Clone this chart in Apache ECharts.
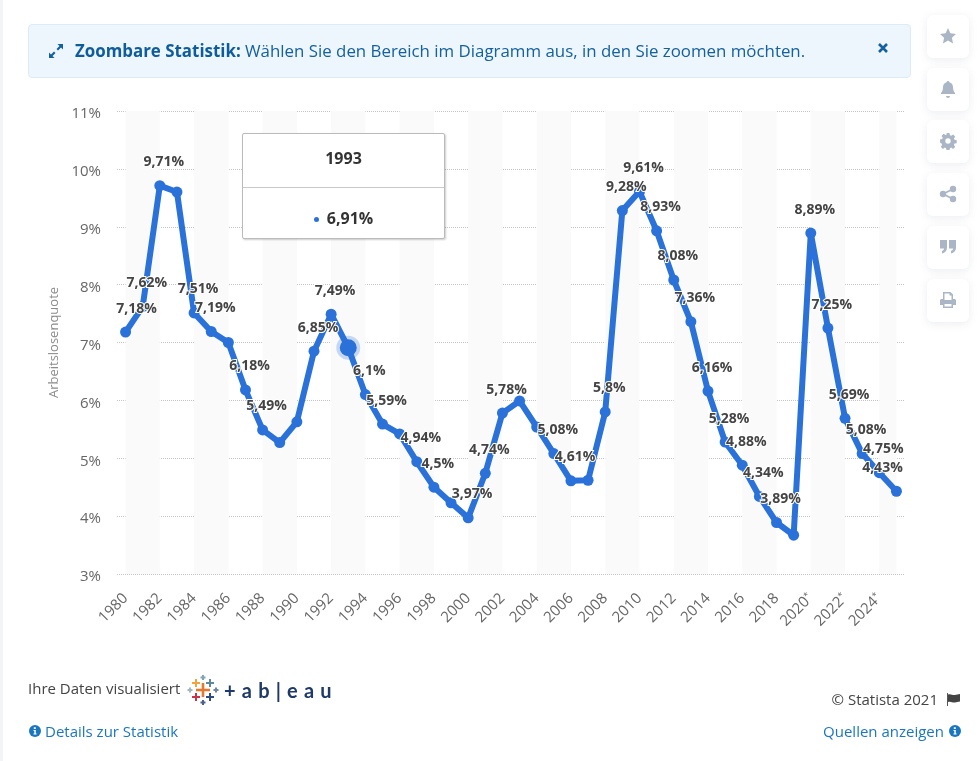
<!DOCTYPE html>
<html lang="de">
<head>
<meta charset="utf-8">
<title>Arbeitslosenquote</title>
<script src="https://cdn.jsdelivr.net/npm/echarts@6/dist/echarts.min.js"></script>
<style>
html,body{margin:0;padding:0;background:#fff;overflow:hidden;}
body{width:978px;height:761px;position:relative;font-family:"Open Sans",sans-serif;}
#chart{position:absolute;left:0;top:0;width:978px;height:761px;}
.strip{position:absolute;left:0;top:0;width:3px;height:761px;background:#f3f4f6;}
.banner{position:absolute;left:28px;top:24px;width:881px;height:52px;background:#edf6fd;border:1px solid #dcebf7;border-radius:4px;color:#15609f;font-size:17px;line-height:52px;}
.banner b{position:absolute;left:46px;top:0;color:#0f5c9c;white-space:nowrap;font-size:16.900px;}
.banner span{position:absolute;left:216px;top:0;white-space:nowrap;font-size:16.880px;}
.banner svg{position:absolute;}
.side{position:absolute;left:927px;width:42px;height:43px;background:#fff;border-radius:6px;box-shadow:0 2px 8px rgba(90,110,140,.12);}
.side svg{position:absolute;left:12px;top:12px;width:18px;height:18px;fill:#aab6c6;}
.foot{position:absolute;font-size:15px;white-space:nowrap;line-height:20px;}
.grey{color:#444;}
.link{color:#1a77bf;}
.info{position:absolute;width:12px;height:12px;}
.logo-text{position:absolute;left:224px;top:680px;font-family:"Lato",sans-serif;font-size:20px;font-weight:700;color:#1f3a68;letter-spacing:6.200px;white-space:nowrap;line-height:20px;}
.tip{width:201px;height:104px;text-align:center;font-family:"Open Sans",sans-serif;color:#333;}
.tip .yr{height:53px;line-height:49px;font-size:16px;font-weight:700;border-bottom:1px solid #c9c9c9;}
.tip .val{line-height:61px;font-size:16px;font-weight:700;}
.tip .val i{display:inline-block;width:5px;height:5px;border-radius:50%;background:#2a72d9;margin-right:8px;vertical-align:2px;}
</style>
</head>
<body>
<div id="chart"></div>
<div class="strip"></div>

<div class="banner">
  <svg style="left:19px;top:18px" width="16" height="16" viewBox="0 0 16 16" fill="#15609f"><path d="M9.5 1H15v5.5l-2-2-3 3L8.500 6l3-3zM6.500 15H1V9.500l2 2 3-3L7.500 10l-3 3z"/></svg>
  <b>Zoombare Statistik:</b>
  <span>Wählen Sie den Bereich im Diagramm aus, in den Sie zoomen möchten.</span>
  <svg style="left:848px;top:17px" width="12" height="12" viewBox="0 0 12 12" stroke="#15609f" stroke-width="2.600"><path d="M2 2l8 8M10 2l-8 8"/></svg>
</div>

<div class="side" style="top:15px"><svg viewBox="0 0 18 18"><path d="M9 1l2.400 5.200 5.600.7-4.100 3.900 1.100 5.600L9 13.600l-5 2.800 1.100-5.600L1 6.900l5.600-.7z"/></svg></div>
<div class="side" style="top:68px"><svg viewBox="0 0 18 18"><path d="M9 1c.8 0 1.400.6 1.400 1.300 2.300.6 3.600 2.500 3.600 5 0 3 1 4.600 2 5.700v1H2v-1c1-1.100 2-2.700 2-5.700 0-2.500 1.300-4.400 3.600-5C7.600 1.600 8.200 1 9 1zM7 16h4a2 2 0 0 1-4 0z"/></svg></div>
<div class="side" style="top:120px"><svg viewBox="0 0 18 18"><path fill-rule="evenodd" d="M7.500 1h3l.4 2.200 1.300.6 1.900-1.300 2.100 2.100-1.300 1.900.6 1.300 2.200.4v3l-2.200.4-.6 1.300 1.300 1.900-2.100 2.100-1.900-1.300-1.300.6-.4 2.200h-3l-.4-2.200-1.300-.6-1.900 1.300-2.100-2.100 1.300-1.900-.6-1.300L1 10.500v-3l2.200-.4.6-1.300-1.300-1.900 2.100-2.100 1.900 1.300 1.300-.6zM9 6.300a2.700 2.700 0 1 0 0 5.400 2.700 2.700 0 0 0 0-5.400z"/></svg></div>
<div class="side" style="top:173px"><svg viewBox="0 0 18 18"><circle cx="4" cy="9" r="3.200"/><circle cx="14" cy="4" r="3.200"/><circle cx="14" cy="14" r="3.200"/><path d="M4 9l10-5M4 9l10 5" stroke="#aab6c6" stroke-width="1.800"/></svg></div>
<div class="side" style="top:226px"><svg viewBox="0 0 18 18"><path d="M1 2h7v7.500c0 3.200-2 5.500-5 6v-2.500c1.300-.4 2-1.200 2-2.500H1zM10 2h7v7.500c0 3.200-2 5.500-5 6v-2.500c1.300-.4 2-1.200 2-2.500h-4z"/></svg></div>
<div class="side" style="top:279px"><svg viewBox="0 0 18 18"><path fill-rule="evenodd" d="M4 1h7.500L14 3.500V8h1.500C16.300 8 17 8.700 17 9.500V14h-3v3H4v-3H1V9.500C1 8.700 1.700 8 2.500 8H4zM5.500 2.500V9h7V4.500h-2v-2zM5.500 13v2.500h7V13z"/></svg></div>

<div class="foot grey" style="left:28px;top:678px">Ihre Daten visualisiert</div>
<svg style="position:absolute;left:187px;top:674px" width="32" height="32" viewBox="0 0 32 32" fill="none" stroke-width="2">
  <path d="M16 9v14M9 16h14" stroke="#e8762d" stroke-width="2.600"/>
  <path d="M9 5v8M5 9h8" stroke="#f2a33c"/>
  <path d="M23 5v8M19 9h8" stroke="#5b8a9c"/>
  <path d="M9 19v8M5 23h8" stroke="#c8354a"/>
  <path d="M23 19v8M19 23h8" stroke="#2f4a7c"/>
  <path d="M16 1v5M13.500 3.500h5" stroke="#7fa5b8"/>
  <path d="M16 26v5M13.500 28.500h5" stroke="#4f5f8f"/>
  <path d="M3 13.500v5M.5 16h5" stroke="#9fb8c4"/>
  <path d="M29 13.500v5M26.500 16h5" stroke="#6b88a0"/>
</svg>
<div class="logo-text">+ab|eau</div>

<svg class="info" style="left:29px;top:725px" viewBox="0 0 12 12"><circle cx="6" cy="6" r="6" fill="#1a77bf"/><path d="M4.800 2.300h2v1.700h-2zM4.500 5h2.300v3.600h.8v1H4.500v-1h.8V6h-.8z" fill="#fff"/></svg>
<div class="foot link" style="left:45px;top:721px">Details zur Statistik</div>

<div class="foot grey" style="right:40px;top:689px">© Statista 2021</div>
<svg style="position:absolute;left:946px;top:693px" width="15" height="13" viewBox="0 0 15 13"><path d="M1 0h1v13H1z" fill="#555"/><path d="M2 1.500c3-1.200 4.500 1 7 .4 1.500-.3 3-.7 5-.9v7.500c-2 .2-3.500.7-5 1-2.500.5-4-1.600-7-.5z" fill="#444"/></svg>
<div class="foot link" style="right:34px;top:721px">Quellen anzeigen</div>
<svg class="info" style="left:949px;top:725px" viewBox="0 0 12 12"><circle cx="6" cy="6" r="6" fill="#1a77bf"/><path d="M4.800 2.300h2v1.700h-2zM4.500 5h2.300v3.600h.8v1H4.500v-1h.8V6h-.8z" fill="#fff"/></svg>

<script>
// 数据
var years = ['1980','1981','1982','1983','1984','1985','1986','1987','1988','1989',
  '1990','1991','1992','1993','1994','1995','1996','1997','1998','1999',
  '2000','2001','2002','2003','2004','2005','2006','2007','2008','2009',
  '2010','2011','2012','2013','2014','2015','2016','2017','2018','2019',
  '2020*','2021*','2022*','2023*','2024*','2025*'];
var quote = [7.18,7.62,9.71,9.6,7.51,7.19,7.0,6.18,5.49,5.27,
  5.63,6.85,7.49,6.91,6.1,5.59,5.42,4.94,4.5,4.23,
  3.97,4.74,5.78,5.99,5.54,5.08,4.61,4.62,5.8,9.28,
  9.61,8.93,8.08,7.36,6.16,5.28,4.88,4.34,3.89,3.67,
  8.89,7.25,5.69,5.08,4.75,4.43];
// 没有数字标签的年份
var unlabeled = ['1983','1986','1989','1990','1993','1996','1999','2003','2004','2007','2019'];
var activeYear = '1993';

function pct(v){
	return String(v).replace('.', ',') + '%';
}

// 组装数据，每个点的标签单独设置
var points = [];
for(var i=0;i<years.length;i++){
	var shift = 4;
	if(years[i] == '1980') shift = 11;
	if(years[i] == '2025*') shift = -14;
	var item = {
		value: quote[i],
		label: {show: unlabeled.indexOf(years[i]) < 0, offset: [shift, 0]}
	};
	if(years[i] == activeYear){
		item.symbolSize = 17;
		item.itemStyle = {color:'#2a72d9', borderColor:'rgba(42,114,217,0.25)', borderWidth:7};
	}
	points.push(item);
}

// 背景条纹，每四年一段
var bands = [];
for(var j=0;j<years.length;j+=4){
	bands.push([{xAxis: years[j]}, {xAxis: years[Math.min(j+2, years.length-1)]}]);
}

var myChart = echarts.init(document.getElementById('chart'));
var option = {
	animation: false,
	textStyle: {fontFamily: '"Open Sans", sans-serif'},
	grid: {left:117, right:73, top:111, height:463},
	tooltip: {
		show: true,
		trigger: 'item',
		alwaysShowContent: true,
		transitionDuration: 0,
		position: [242, 133],
		padding: 0,
		borderColor: '#bbb',
		borderWidth: 1,
		borderRadius: 2,
		backgroundColor: '#fff',
		extraCssText: 'box-shadow:1px 1px 2px rgba(0,0,0,.2);',
		formatter: function(p){
			return '<div class="tip"><div class="yr">' + p.name + '</div><div class="val"><i></i>' + pct(p.value) + '</div></div>';
		}
	},
	xAxis: {
		type: 'category',
		data: years,
		boundaryGap: true,
		axisLine: {show:false},
		axisTick: {show:false},
		axisLabel: {
			interval: 1,
			rotate: 45,
			margin: 22,
			fontSize: 15,
			color: '#666',
			formatter: function(v){
				return v.indexOf('*') > 0 ? v.replace('*','') + '{star|*}' : v;
			},
			rich: {star: {fontSize:9, color:'#666', verticalAlign:'top'}}
		}
	},
	yAxis: {
		type: 'value',
		min: 3,
		max: 11,
		interval: 1,
		name: 'Arbeitslosenquote',
		nameLocation: 'middle',
		nameGap: 56,
		nameTextStyle: {fontSize:13, color:'#8c8c8c'},
		axisLine: {show:false},
		axisTick: {show:false},
		axisLabel: {fontSize:15, color:'#666', margin:16, verticalAlign:'top', lineHeight:6, formatter:'{value}%'},
		splitLine: {lineStyle:{type:'dotted', color:'#c4c4c4', width:1}}
	},
	series: [{
		type: 'line',
		data: points,
		symbol: 'circle',
		symbolSize: 11,
		showAllSymbol: true,
		lineStyle: {color:'#2a72d9', width:6},
		itemStyle: {color:'#2a72d9'},
		emphasis: {disabled:true},
		label: {
			position: 'top',
			distance: 11,
			fontSize: 14,
			fontWeight: 'bold',
			color: '#444',
			textBorderColor: '#fff',
			textBorderWidth: 2,
			formatter: function(p){ return pct(p.value); }
		},
		markArea: {
			silent: true,
			itemStyle: {color:'#fafafa'},
			data: bands
		}
	}]
};
myChart.setOption(option);
// 固定显示1993的提示框
myChart.dispatchAction({type:'showTip', seriesIndex:0, dataIndex: years.indexOf(activeYear)});
</script>
</body>
</html>
